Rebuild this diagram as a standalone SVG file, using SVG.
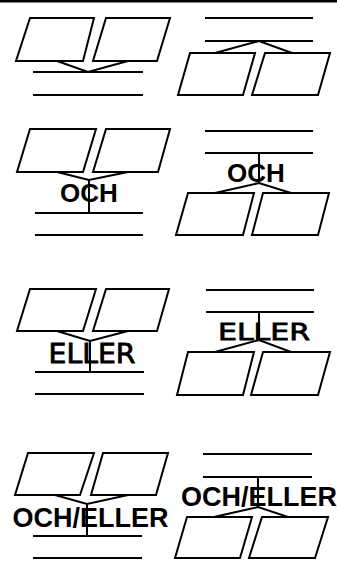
<svg xmlns="http://www.w3.org/2000/svg" width="337" height="564" viewBox="0 0 337 564">
<style>
.p{fill:#fff;stroke:#000;stroke-width:2;stroke-linejoin:miter}
.l{stroke:#000;stroke-width:2;fill:none}
.c{stroke:#000;stroke-width:2;fill:none}
.t{font-family:"Liberation Sans",Arial,sans-serif;font-weight:bold;fill:#000;text-anchor:middle}
.e{font-family:"DejaVu Sans",Verdana,sans-serif;font-weight:normal;fill:#000;stroke:#000;stroke-width:0.8;text-anchor:middle}
</style>
<rect x="0" y="0" width="337" height="2.5" fill="#000"/>
<g id="connectors">
<polyline class="c" points="57,61 88,72 128,61"/>
<polyline class="c" points="215,53 259,41 292,53"/>
<polyline class="c" points="57,172 89,180 128,172"/>
<line class="c" x1="89" y1="180" x2="89" y2="213"/>
<polyline class="c" points="215,193 259,183 291,193"/>
<line class="c" x1="259" y1="153" x2="259" y2="183"/>
<polyline class="c" points="57,331 90,341 128,331"/>
<line class="c" x1="90" y1="341" x2="90" y2="372"/>
<polyline class="c" points="215,352 259,340 291,352"/>
<line class="c" x1="259" y1="312" x2="259" y2="340"/>
<polyline class="c" points="55,495 87,504 128,495"/>
<line class="c" x1="87" y1="504" x2="87" y2="536"/>
<polyline class="c" points="214,517 258,507 288,517"/>
<line class="c" x1="258" y1="477" x2="258" y2="507"/>
</g>
<g id="panel1">
<polygon class="p" points="30,18 94,18 83,61 16,61"/>
<polygon class="p" points="106,18 170,18 157,61 93,61"/>
<line class="l" x1="33" y1="72" x2="143" y2="72"/>
<line class="l" x1="33" y1="95" x2="143" y2="95"/>
</g>
<g id="panel2">
<line class="l" x1="205" y1="18" x2="313" y2="18"/>
<line class="l" x1="205" y1="41" x2="313" y2="41"/>
<polygon class="p" points="190,53 255,53 243,95 178,95"/>
<polygon class="p" points="265,53 330,53 318,95 252,95"/>
</g>
<g id="panel3">
<polygon class="p" points="30,129 96,129 83,172 17,172"/>
<polygon class="p" points="106,129 170,129 158,172 93,172"/>
<text class="t" x="89" y="202" font-size="26">OCH</text>
<line class="l" x1="35" y1="213" x2="143" y2="213"/>
<line class="l" x1="35" y1="235" x2="143" y2="235"/>
</g>
<g id="panel4">
<line class="l" x1="205" y1="131" x2="313" y2="131"/>
<line class="l" x1="205" y1="153" x2="313" y2="153"/>
<text class="t" x="256" y="182" font-size="26">OCH</text>
<polygon class="p" points="188,193 254,193 243,235 176,235"/>
<polygon class="p" points="263,193 329,193 318,235 252,235"/>
</g>
<g id="panel5">
<polygon class="p" points="30,289 96,289 83,331 17,331"/>
<polygon class="p" points="106,289 169,289 157,331 93,331"/>
<text class="e" x="92" y="363" font-size="26" textLength="87" lengthAdjust="spacingAndGlyphs">ELLER</text>
<line class="l" x1="35" y1="372" x2="144" y2="372"/>
<line class="l" x1="35" y1="394" x2="144" y2="394"/>
</g>
<g id="panel6">
<line class="l" x1="206" y1="290" x2="314" y2="290"/>
<line class="l" x1="206" y1="312" x2="314" y2="312"/>
<text class="e" x="264" y="340" font-size="23" textLength="92" lengthAdjust="spacingAndGlyphs">ELLER</text>
<polygon class="p" points="188,352 254,352 243,395 177,395"/>
<polygon class="p" points="263,352 330,352 318,395 251,395"/>
</g>
<g id="panel7">
<polygon class="p" points="28,453 94,453 80,495 15,495"/>
<polygon class="p" points="103,453 168,453 156,495 91,495"/>
<text class="t" x="90.5" y="526.5" font-size="27">OCH/ELLER</text>
<line class="l" x1="33" y1="536" x2="142" y2="536"/>
<line class="l" x1="33" y1="558" x2="142" y2="558"/>
</g>
<g id="panel8">
<line class="l" x1="203" y1="454" x2="312" y2="454"/>
<line class="l" x1="203" y1="477" x2="312" y2="477"/>
<text class="t" x="259" y="506" font-size="27">OCH/ELLER</text>
<polygon class="p" points="187,517 252,517 240,558 175,558"/>
<polygon class="p" points="262,517 328,517 315,558 249,558"/>
</g>
</svg>
